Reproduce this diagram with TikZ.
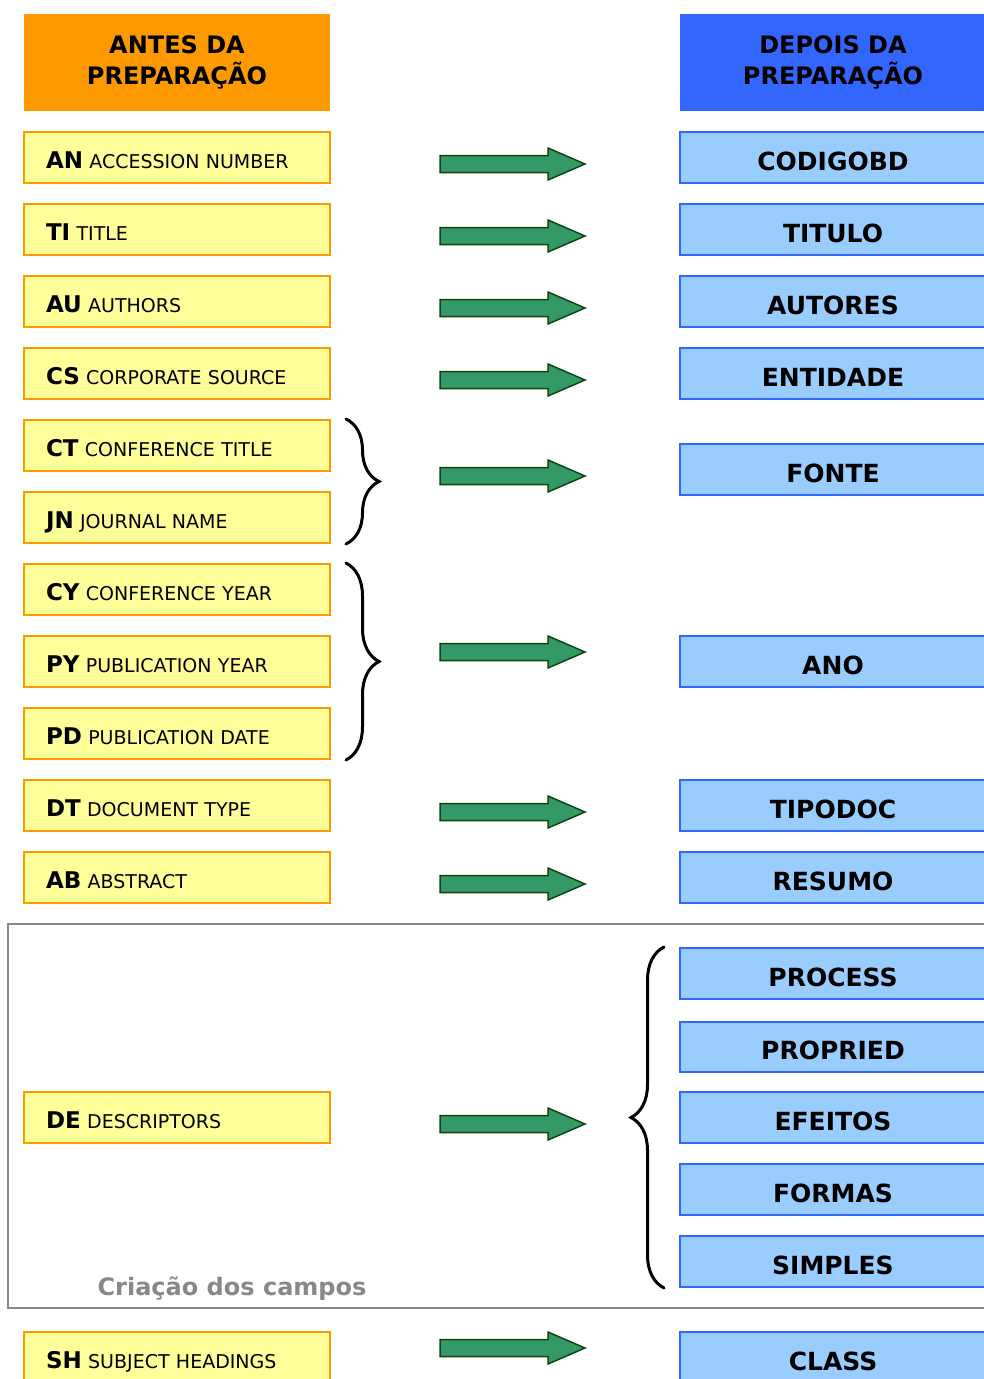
\documentclass[tikz,border=0pt]{standalone}
\usepackage{fontspec}
\setmainfont{DejaVu Sans}
\usetikzlibrary{decorations.pathreplacing}
\definecolor{laranja}{HTML}{FF9900}
\definecolor{amarelo}{HTML}{FFFF99}
\definecolor{azul}{HTML}{3366FF}
\definecolor{azulclaro}{HTML}{99CCFF}
\definecolor{verde}{HTML}{339966}
\definecolor{verdeesc}{HTML}{114411}
\definecolor{cinza}{HTML}{888888}
\newcommand\campo[2]{{\fontsize{23}{22}\selectfont\bfseries #1} #2}

\begin{document}
\begin{tikzpicture}[x=1pt, y=-1pt,
  cab/.style = {minimum width=306pt, minimum height=97pt, inner sep=0pt, align=center, font=\fontsize{24}{31}\selectfont\bfseries},
  antes/.style = {draw=laranja, line width=2pt, fill=amarelo, minimum width=306pt, minimum height=51pt, text width=262pt, inner xsep=22pt, inner ysep=0pt, text height=21pt, text depth=0pt, align=left, font=\fontsize{19}{22}\selectfont},
  depois/.style = {draw=azul, line width=2pt, fill=azulclaro, minimum width=306pt, minimum height=51pt, inner sep=0pt, text height=25pt, text depth=0pt, font=\fontsize{25}{28}\selectfont\bfseries},
  seta/.style = {draw=verdeesc, fill=verde, line width=1.5pt},
  chave/.style = {decorate, decoration={brace, amplitude=33pt}, line width=3pt, line cap=round}]
  \useasboundingbox (0,0) rectangle (984,1379);

  \draw[cinza, line width=1.5pt] (8,924) rectangle (992,1308);
  \node[font=\fontsize{24}{28}\selectfont\bfseries, text=cinza, anchor=base] (criacao) at (232,1295) {Criação dos campos};

  \node[cab, fill=laranja] (antes) at (177,62.5) {ANTES DA\\PREPARAÇÃO};
  \node[cab, fill=azul] (depois) at (833,62.5) {DEPOIS DA\\PREPARAÇÃO};

  \node[antes] (an) at (177,157.5) {\campo{AN}{ACCESSION NUMBER}};
  \node[antes] (ti) at (177,229.5) {\campo{TI}{TITLE}};
  \node[antes] (au) at (177,301.5) {\campo{AU}{AUTHORS}};
  \node[antes] (cs) at (177,373.5) {\campo{CS}{CORPORATE SOURCE}};
  \node[antes] (ct) at (177,445.5) {\campo{CT}{CONFERENCE TITLE}};
  \node[antes] (jn) at (177,517.5) {\campo{JN}{JOURNAL NAME}};
  \node[antes] (cy) at (177,589.5) {\campo{CY}{CONFERENCE YEAR}};
  \node[antes] (py) at (177,661.5) {\campo{PY}{PUBLICATION YEAR}};
  \node[antes] (pd) at (177,733.5) {\campo{PD}{PUBLICATION DATE}};
  \node[antes] (dt) at (177,805.5) {\campo{DT}{DOCUMENT TYPE}};
  \node[antes] (ab) at (177,877.5) {\campo{AB}{ABSTRACT}};
  \node[antes] (de) at (177,1117.5) {\campo{DE}{DESCRIPTORS}};
  \node[antes] (sh) at (177,1357.5) {\campo{SH}{SUBJECT HEADINGS}};

  \node[depois] (codigobd) at (833,157.5) {CODIGOBD};
  \node[depois] (titulo) at (833,229.5) {TITULO};
  \node[depois] (autores) at (833,301.5) {AUTORES};
  \node[depois] (entidade) at (833,373.5) {ENTIDADE};
  \node[depois] (fonte) at (833,469.5) {FONTE};
  \node[depois] (ano) at (833,661.5) {ANO};
  \node[depois] (tipodoc) at (833,805.5) {TIPODOC};
  \node[depois] (resumo) at (833,877.5) {RESUMO};
  \node[depois] (process) at (833,973.5) {PROCESS};
  \node[depois, minimum height=50pt] (propried) at (833,1047) {PROPRIED};
  \node[depois] (efeitos) at (833,1117.5) {EFEITOS};
  \node[depois] (formas) at (833,1189.5) {FORMAS};
  \node[depois] (simples) at (833,1261.5) {SIMPLES};
  \node[depois] (class) at (833,1357.5) {CLASS};

  \foreach \y in {164,236,308,380,476,652,812,884,1124,1348}
    \draw[seta] (440,\y-8.5) -- (548,\y-8.5) -- (548,\y-16) -- (585,\y)
      -- (548,\y+16) -- (548,\y+8.5) -- (440,\y+8.5) -- cycle;

  \draw[chave] ([xshift=15pt]ct.north east) -- ([xshift=15pt]jn.south east);
  \draw[chave] ([xshift=15pt]cy.north east) -- ([xshift=15pt]pd.south east);
  \draw[chave] ([xshift=-15pt]simples.south west) -- ([xshift=-15pt]process.north west);
\end{tikzpicture}
\end{document}
